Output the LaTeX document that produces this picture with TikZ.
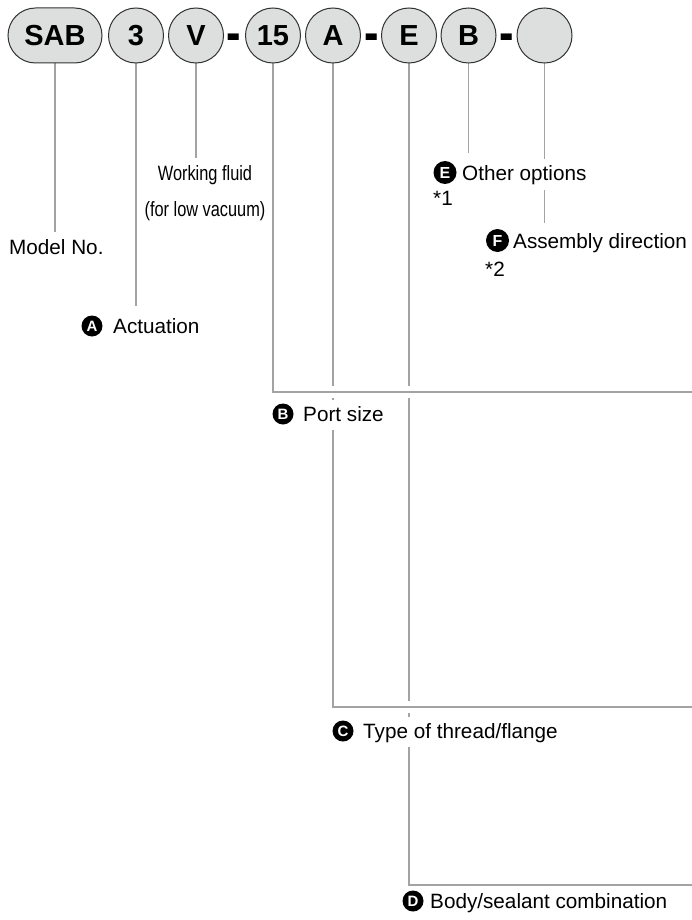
\documentclass[tikz,border=0pt]{standalone}
\usepackage{fontspec}
\setmainfont{Liberation Sans}
\newfontfamily\narrowfont[FakeStretch=0.79]{Liberation Sans}
\usetikzlibrary{backgrounds}
\definecolor{linegray}{RGB}{163,163,163}
\definecolor{pillfill}{RGB}{221,222,222}
\definecolor{pillline}{RGB}{50,50,50}
\begin{document}
\begin{tikzpicture}[x=1pt,y=-1pt,
  code/.style={draw=pillline, fill=pillfill, line width=1pt, circle, minimum size=55pt, inner sep=0pt, font=\fontsize{29}{29}\selectfont\bfseries},
  pill/.style={code, rectangle, rounded corners=27.5pt, minimum width=94pt, minimum height=55pt},
  sepdash/.style={anchor=base, inner sep=0pt, font=\fontsize{29}{29}\selectfont\bfseries},
  conn/.style={draw=linegray, line width=1.8pt},
  gapline/.style={draw=white, line width=12pt},
  lab/.style={anchor=base west, fill=white, inner xsep=0pt, inner ysep=6.5pt, text height=15pt, text depth=2pt, font=\fontsize{20.7}{24}\selectfont},
  note/.style={anchor=base west, inner sep=0pt, font=\fontsize{20.7}{24}\selectfont},
  fluid/.style={anchor=base, inner sep=0pt, font=\narrowfont\fontsize{20.7}{24}\selectfont},
  badge/.style={circle, fill=black, text=white, inner sep=0pt, minimum size=21pt, font=\fontsize{15}{15}\selectfont\bfseries},
  bigbadge/.style={badge, minimum size=23pt, font=\fontsize{16}{16}\selectfont\bfseries}
]
\useasboundingbox (0,0) rectangle (692,920);

% code boxes
\node[pill] (sab) at (55,35.5) {SAB};
\node[code] (n3) at (136,35.5) {3};
\node[code] (nV) at (196,35.5) {V};
\node[sepdash] (d1) at (234,52) {\scalebox{1.5}[1.9]{-}};
\node[code] (n15) at (273,35.5) {15};
\node[code] (nA) at (333,35.5) {A};
\node[sepdash] (d2) at (372,52) {\scalebox{1.5}[1.9]{-}};
\node[code] (nE) at (409,35.5) {E};
\node[code] (nB) at (468.5,35.5) {B};
\node[sepdash] (d3) at (507,52) {\scalebox{1.5}[1.9]{-}};
\node[code] (nX) at (544.5,35.5) {};

% labels
\node[lab] (lmodel) at (9,254) {Model No.};
\node[badge] (bA) at (92,326) {A};
\node[lab] (lact) at (113,333.5) {Actuation};
\node[fluid] (lfluid) at (205,180.7) {Working fluid};
\node[fluid] (lfluid2) at (205,216) {(for low vacuum)};
\node[bigbadge] (bE) at (445,172.5) {E};
\node[lab] (lother) at (462,181) {Other options};
\node[note] (note1) at (433,205) {*1};
\node[bigbadge] (bF) at (497.5,240.5) {F};
\node[lab] (lassy) at (513,248) {Assembly direction};
\node[note] (note2) at (485,276) {*2};
\node[badge] (bB) at (283,414) {B};
\node[lab] (lport) at (303,421) {Port size};
\node[badge] (bC) at (343,731) {C};
\node[lab] (lthread) at (363,738) {Type of thread/flange};
\node[badge] (bD) at (413,901) {D};
\node[lab] (lbody) at (430,908) {Body/sealant combination};

% connector ends and corners
\coordinate (eSAB) at (55,232);
\coordinate (e3) at (136,306);
\coordinate (eV) at (196,158);
\coordinate (eB) at (468.5,153);
\coordinate (eX) at (544.5,223);
\coordinate (k15) at (273,392);
\coordinate (r15) at (692,392);
\coordinate (g15) at (276,392);
\coordinate (kA) at (333,707);
\coordinate (rA) at (692,707);
\coordinate (gA) at (336,707);
\coordinate (kE) at (409,885);
\coordinate (rE) at (692,885);

\begin{scope}[on background layer]
\draw[conn] (nE.south) -- (kE) -- (rE);
\draw[gapline] (gA) -- (rA);
\draw[conn] (nA.south) -- (kA) -- (rA);
\draw[gapline] (g15) -- (r15);
\draw[conn] (n15.south) -- (k15) -- (r15);
\draw[conn] (sab.south) -- (eSAB);
\draw[conn] (n3.south) -- (e3);
\draw[conn] (nV.south) -- (eV);
\draw[conn] (nB.south) -- (eB);
\draw[conn] (nX.south) -- (eX);
\end{scope}
\end{tikzpicture}
\end{document}
